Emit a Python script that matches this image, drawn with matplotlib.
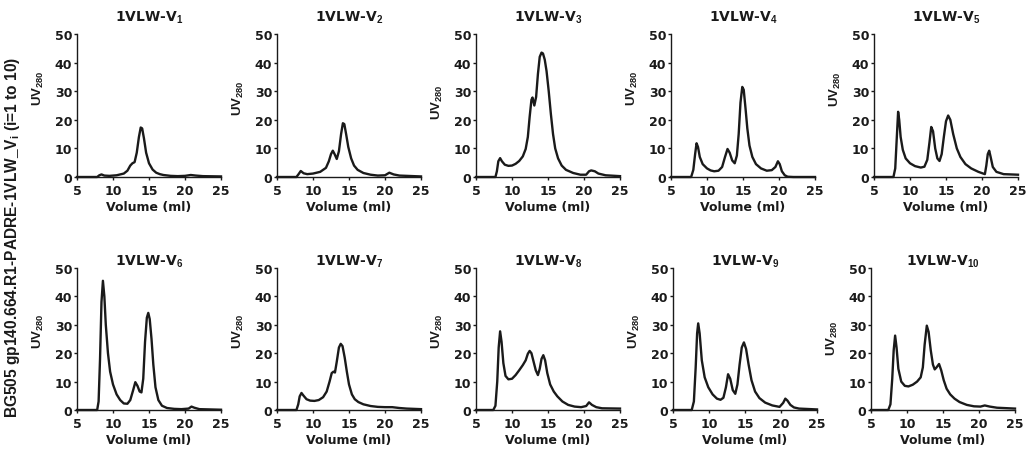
import numpy as np
import matplotlib
matplotlib.use('Agg')
import matplotlib.pyplot as plt

plt.rcParams['font.family'] = 'DejaVu Sans'
plt.rcParams['font.weight'] = 'bold'
plt.rcParams['mathtext.fontset'] = 'custom'
plt.rcParams['mathtext.bf'] = 'Liberation Sans:bold'
plt.rcParams['mathtext.rm'] = 'Liberation Sans:bold'

# panel names (subscripts)
names = ['1', '2', '3', '4', '5', '6', '7', '8', '9', '10']

# chromatogram traces: volume (ml) and UV280
x1 = [5, 7.8, 8.1, 8.4, 8.8, 9.5, 10.5, 11.5, 12.0, 12.4, 12.7, 13.0, 13.3, 13.6, 13.85, 14.05, 14.3, 14.6, 15.0, 15.5, 16.0, 16.5, 17.0, 18.0, 19.0, 20.0, 20.8, 21.5, 22.5, 25]
y1 = [0, 0, 0.6, 0.9, 0.5, 0.4, 0.6, 1.2, 2.2, 4.0, 4.8, 5.2, 8.5, 14.0, 17.3, 17.0, 13.5, 8.5, 4.8, 2.6, 1.5, 1.0, 0.7, 0.4, 0.3, 0.4, 0.7, 0.5, 0.3, 0.2]

x2 = [5, 7.7, 8.0, 8.3, 8.7, 9.2, 10.0, 11.0, 11.8, 12.2, 12.5, 12.75, 13.0, 13.3, 13.6, 13.9, 14.15, 14.35, 14.6, 14.9, 15.3, 15.7, 16.2, 17.0, 18.0, 19.0, 20.0, 20.6, 21.2, 22.0, 25]
y2 = [0, 0, 1.0, 2.1, 1.3, 1.0, 1.2, 1.8, 3.2, 5.5, 8.0, 9.2, 8.0, 6.3, 9.0, 15.0, 18.8, 18.5, 15.0, 10.5, 6.5, 4.0, 2.5, 1.4, 0.8, 0.5, 0.6, 1.5, 0.9, 0.5, 0.2]

x3 = [5, 7.7, 7.9, 8.1, 8.35, 8.6, 9.0, 9.5, 10.0, 10.5, 11.0, 11.5, 11.9, 12.2, 12.45, 12.7, 12.85, 13.1, 13.35, 13.6, 13.85, 14.1, 14.3, 14.55, 14.8, 15.1, 15.4, 15.7, 16.0, 16.4, 16.9, 17.5, 18.5, 19.5, 20.3, 20.7, 21.0, 21.5, 22.0, 23.0, 25]
y3 = [0, 0, 2.0, 5.5, 6.6, 5.5, 4.3, 3.9, 4.0, 4.6, 5.6, 7.2, 9.8, 14.0, 21.0, 27.0, 27.8, 25.0, 28.0, 36.0, 42.0, 43.5, 43.2, 41.0, 37.0, 30.0, 22.0, 15.0, 10.0, 6.5, 4.0, 2.5, 1.4, 0.8, 0.8, 2.0, 2.3, 2.0, 1.2, 0.6, 0.3]

x4 = [5, 7.8, 8.1, 8.35, 8.55, 8.75, 9.0, 9.4, 10.0, 10.5, 11.0, 11.6, 12.1, 12.5, 12.85, 13.15, 13.5, 13.85, 14.15, 14.4, 14.65, 14.9, 15.1, 15.35, 15.6, 15.9, 16.3, 16.8, 17.5, 18.3, 19.0, 19.5, 19.85, 20.1, 20.4, 20.8, 21.2, 22.0, 25]
y4 = [0, 0, 2.5, 8.0, 11.8, 10.5, 7.0, 4.5, 3.0, 2.3, 2.0, 2.2, 3.5, 7.0, 9.8, 8.5, 5.8, 4.8, 7.5, 15.0, 26.0, 31.5, 30.5, 24.0, 17.0, 11.0, 7.0, 4.5, 3.0, 2.2, 2.4, 3.5, 5.5, 4.5, 2.0, 0.6, 0.1, 0, 0]

x5 = [5, 7.7, 7.95, 8.15, 8.35, 8.5, 8.7, 9.0, 9.4, 10.0, 10.7, 11.5, 12.0, 12.4, 12.7, 12.95, 13.2, 13.5, 13.8, 14.1, 14.4, 14.7, 15.0, 15.3, 15.6, 16.0, 16.5, 17.0, 17.7, 18.5, 19.5, 20.4, 20.6, 20.8, 21.0, 21.2, 21.5, 22.0, 23.0, 25]
y5 = [0, 0, 3.0, 13.0, 22.8, 20.0, 14.0, 9.5, 6.5, 4.8, 3.8, 3.3, 3.6, 6.0, 12.0, 17.5, 16.0, 10.0, 6.5, 5.6, 8.0, 14.0, 19.5, 21.5, 20.0, 15.0, 10.0, 7.0, 4.5, 3.0, 1.8, 1.0, 4.0, 8.0, 9.2, 7.0, 3.5, 1.8, 1.0, 0.8]

x6 = [5, 7.8, 8.0, 8.2, 8.4, 8.6, 8.8, 9.0, 9.3, 9.6, 10.0, 10.5, 11.0, 11.5, 12.0, 12.4, 12.8, 13.1, 13.4, 13.7, 13.95, 14.2, 14.45, 14.7, 14.9, 15.1, 15.35, 15.6, 15.9, 16.3, 16.8, 17.5, 18.5, 19.5, 20.5, 20.9, 21.3, 22.0, 25]
y6 = [0, 0, 3.0, 18.0, 38.0, 45.5, 40.0, 30.0, 20.0, 13.5, 9.0, 5.5, 3.5, 2.3, 2.2, 3.5, 7.0, 9.8, 8.5, 6.5, 6.2, 11.0, 24.0, 32.5, 34.2, 32.0, 25.0, 16.0, 8.0, 3.5, 1.5, 0.7, 0.4, 0.3, 0.5, 1.2, 0.8, 0.3, 0.1]

x7 = [5, 7.7, 7.95, 8.15, 8.4, 8.7, 9.1, 9.6, 10.2, 10.8, 11.4, 11.9, 12.3, 12.6, 12.85, 13.05, 13.3, 13.6, 13.85, 14.1, 14.4, 14.7, 15.0, 15.4, 15.8, 16.3, 17.0, 18.0, 19.0, 20.0, 21.0, 22.0, 23.0, 25]
y7 = [0, 0, 2.0, 4.8, 6.0, 5.0, 3.8, 3.3, 3.2, 3.5, 4.5, 6.5, 10.0, 13.0, 13.5, 13.2, 17.0, 22.0, 23.3, 22.5, 18.5, 13.5, 9.0, 5.5, 3.8, 2.8, 2.0, 1.4, 1.1, 1.0, 1.0, 0.7, 0.5, 0.3]

x8 = [5, 7.4, 7.7, 7.95, 8.15, 8.35, 8.55, 8.8, 9.1, 9.5, 10.0, 10.5, 11.0, 11.5, 11.9, 12.2, 12.45, 12.7, 13.0, 13.3, 13.6, 13.85, 14.1, 14.35, 14.6, 14.9, 15.3, 15.8, 16.3, 17.0, 17.8, 18.7, 19.6, 20.3, 20.7, 21.1, 21.7, 22.5, 25]
y8 = [0, 0, 1.5, 10.0, 22.0, 27.7, 24.0, 16.5, 12.0, 10.8, 11.0, 12.3, 14.0, 15.8, 17.5, 19.8, 20.8, 20.0, 17.0, 14.0, 12.3, 14.5, 18.0, 19.3, 17.5, 13.0, 9.0, 6.5, 4.8, 3.0, 1.8, 1.2, 1.0, 1.4, 2.7, 1.8, 1.0, 0.6, 0.5]

x9 = [5, 7.6, 7.9, 8.15, 8.35, 8.5, 8.7, 9.0, 9.4, 9.9, 10.5, 11.1, 11.6, 12.0, 12.35, 12.65, 12.95, 13.3, 13.65, 13.95, 14.25, 14.55, 14.85, 15.15, 15.5, 15.9, 16.4, 17.0, 17.8, 18.8, 19.8, 20.3, 20.6, 20.9, 21.3, 21.8, 22.5, 25]
y9 = [0, 0, 3.0, 15.0, 27.0, 30.5, 27.0, 17.5, 11.5, 8.0, 5.5, 4.0, 3.6, 4.3, 8.0, 12.6, 11.0, 7.0, 5.7, 9.0, 16.0, 22.0, 23.8, 21.5, 16.0, 10.5, 6.5, 4.2, 2.6, 1.6, 1.1, 2.5, 4.0, 3.3, 1.8, 0.9, 0.5, 0.2]

x10 = [5, 7.4, 7.7, 7.95, 8.15, 8.35, 8.55, 8.8, 9.2, 9.7, 10.2, 10.8, 11.4, 11.9, 12.2, 12.45, 12.75, 13.0, 13.3, 13.6, 13.85, 14.1, 14.45, 14.75, 15.1, 15.5, 16.0, 16.6, 17.3, 18.3, 19.3, 20.2, 20.8, 21.5, 22.5, 25]
y10 = [0, 0, 2.0, 11.0, 21.0, 26.2, 22.0, 14.5, 10.0, 8.5, 8.3, 8.9, 10.0, 11.5, 15.0, 23.0, 29.7, 27.5, 21.0, 16.0, 14.3, 15.0, 16.2, 14.0, 10.5, 7.5, 5.5, 4.0, 2.8, 1.8, 1.3, 1.2, 1.6, 1.2, 0.8, 0.5]

xs = [x1, x2, x3, x4, x5, x6, x7, x8, x9, x10]
ys = [y1, y2, y3, y4, y5, y6, y7, y8, y9, y10]

xticks = [5, 10, 15, 20, 25]
yticks = [0, 10, 20, 30, 40, 50]

W, H = 1027, 456
fig = plt.figure(figsize=(W / 100, H / 100), dpi=100)

# axes boxes in pixels: left, top, width, bottom
top_lefts = [77, 277, 476, 671, 874]
bot_lefts = [77, 277, 476, 673, 871]
boxes = [(l, 35, 144, 178) for l in top_lefts] + [(l, 269, 144, 411) for l in bot_lefts]
# vertical centre of the UV label (axes fraction), per panel
ylab_pos = [0.63, 0.56, 0.53, 0.63, 0.62, 0.56, 0.56, 0.56, 0.56, 0.51]

ink = '#1a1a1a'
for i, (l, t, w, b) in enumerate(boxes):
    h = b - t
    ax = fig.add_axes([l / W, (H - b) / H, w / W, h / H])
    ax.plot(xs[i], ys[i], color=ink, linewidth=1.7, clip_on=False, solid_joinstyle='round')
    ax.set_xlim(5, 25)
    ax.set_ylim(0, 50)
    ax.set_xticks(xticks)
    ax.set_yticks(yticks)
    ax.tick_params(direction='out', length=2.5, width=1, labelsize=9, colors=ink)
    ax.tick_params(axis='y', pad=0.8)
    ax.tick_params(axis='x', pad=2.5)
    for lab in ax.get_xticklabels() + ax.get_yticklabels():
        lab.set_fontweight('bold')
    ax.spines['top'].set_visible(False)
    ax.spines['right'].set_visible(False)
    for s in ['left', 'bottom']:
        ax.spines[s].set_linewidth(1)
        ax.spines[s].set_color(ink)

    ax.set_xlabel('Volume (ml)', fontsize=9, fontweight='bold', color=ink)
    ax.xaxis.label.set_va('center')
    ax.xaxis.set_label_coords(0.5, -30 / h)

    ax.set_ylabel(r'UV$_{\mathbf{280}}$', fontsize=9.5, fontweight='bold', color=ink,
                  family='Liberation Sans')
    ax.yaxis.label.set_va('center')
    ax.yaxis.set_label_coords(-39 / w, ylab_pos[i])

    ty = 1 + (35 - 21.7) / 143 if i < 5 else 1 + (269 - 265.7) / 142
    ax.text(0.5, ty, r'1VLW-V$_{\mathbf{' + names[i] + '}}$', transform=ax.transAxes,
            ha='center', va='baseline', fontsize=10, fontweight='bold', color=ink)

fig.text(13 / W, 1 - 237 / H, r'BG505 gp140.664.R1-PADRE-1VLW_V$_{\mathbf{i}}$ (i=1 to 10)',
         rotation=90, ha='center', va='center', fontsize=11.2, fontweight='bold',
         family='Liberation Sans', color=ink)

fig.savefig('out.png', dpi=100, facecolor='white')
